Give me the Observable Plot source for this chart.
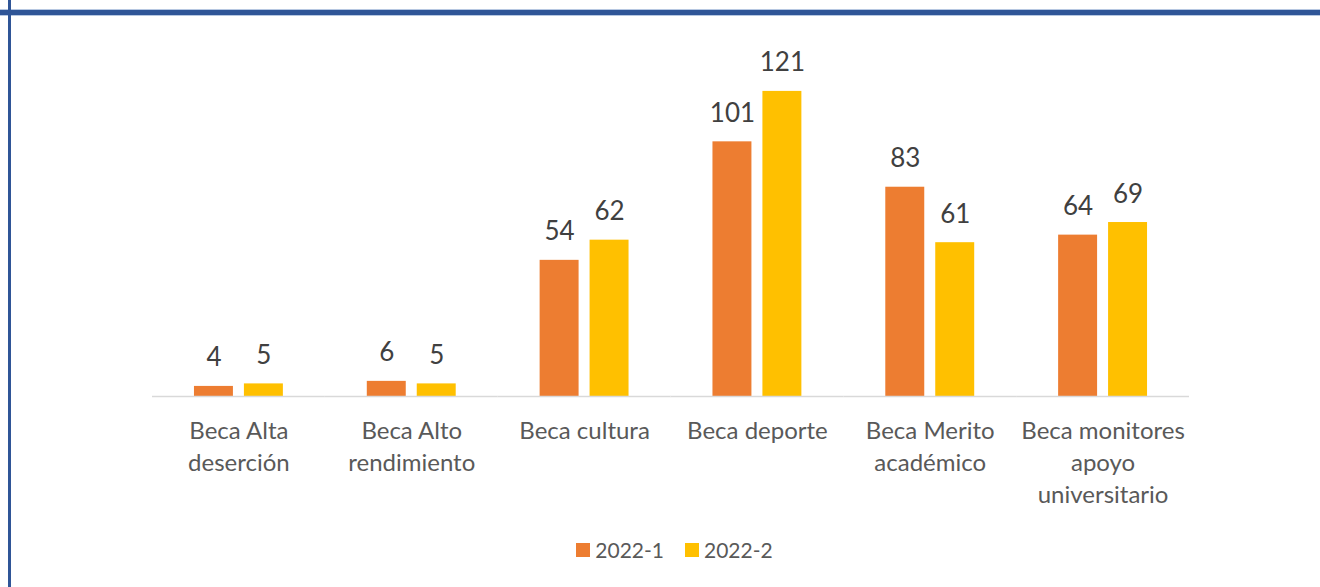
<!DOCTYPE html>
<html>
<head>
<meta charset="utf-8">
<script src="https://cdn.jsdelivr.net/npm/d3@7"></script>
<script src="https://cdn.jsdelivr.net/npm/@observablehq/plot@0.6"></script>
<style>
  html, body { margin: 0; padding: 0; background: #ffffff; }
  #wrap { position: relative; width: 1320px; height: 587px; overflow: hidden; background: #fff; }
  .border-top { position: absolute; left: 0; top: 10px; width: 1320px; height: 5px; background: #2F5597; box-shadow: 0 0 0 0.5px #6f8fc4; }
  .border-left { position: absolute; left: 8px; top: 0; width: 3px; height: 587px; background: #2F5597; }
  .lg-swatch > svg { margin-right: 5px !important; }
  .lg-swatch { margin-right: 21px !important; }
</style>
</head>
<body>
<div id="wrap">
  <div id="chart"></div>
  <div class="border-top"></div>
  <div class="border-left"></div>
</div>
<script>
const categories = ["Beca Alta deserción", "Beca Alto rendimiento", "Beca cultura", "Beca deporte", "Beca Merito académico", "Beca monitores apoyo universitario"];
const tickLabels = ["Beca Alta\ndeserción", "Beca Alto\nrendimiento", "Beca cultura", "Beca deporte", "Beca Merito\nacadémico", "Beca monitores\napoyo\nuniversitario"];
const series = ["2022-1", "2022-2"];
const values2022_1 = [4, 6, 54, 101, 83, 64];
const values2022_2 = [5, 5, 62, 121, 61, 69];
const seriesColors = ["#ED7D31", "#FFC000"];

const data = [];
categories.forEach((c, i) => {
  data.push({cat: c, series: series[0], value: values2022_1[i]});
  data.push({cat: c, series: series[1], value: values2022_2[i]});
});

const chart = Plot.plot({
  width: 1320,
  height: 530,
  marginLeft: 152,
  marginRight: 131,
  marginTop: 43,
  marginBottom: 134,
  style: {fontFamily: "Lato", background: "transparent"},
  fx: {domain: categories, padding: 0, round: false, label: null},
  x: {domain: series, paddingInner: 0.22, paddingOuter: 0.84, round: false, axis: null},
  y: {domain: [0, 140], axis: null},
  color: {domain: series, range: seriesColors},
  marks: [
    Plot.barY(data, {fx: "cat", x: "series", y: "value", fill: "series"}),
    Plot.ruleY([0], {stroke: "#d9d9d9", strokeWidth: 1.5}),
    Plot.text(data, {fx: "cat", x: "series", y: "value", text: d => String(d.value), dy: -20, lineAnchor: "bottom", fontSize: 26, fill: "#404040"}),
    Plot.axisFx({anchor: "bottom", tickSize: 0, tickPadding: 20, fontSize: 24, lineHeight: 1.333, color: "#595959", label: null,
      tickFormat: d => tickLabels[categories.indexOf(d)]})
  ]
});
document.getElementById("chart").appendChild(chart);

const legend = Plot.legend({
  color: {domain: series, range: seriesColors},
  swatchSize: 14,
  className: "lg",
  style: {fontFamily: "Lato", fontSize: "21px", color: "#595959", justifyContent: "center", marginTop: "3px", paddingLeft: "50px"}
});
document.getElementById("chart").appendChild(legend);
</script>
</body>
</html>
